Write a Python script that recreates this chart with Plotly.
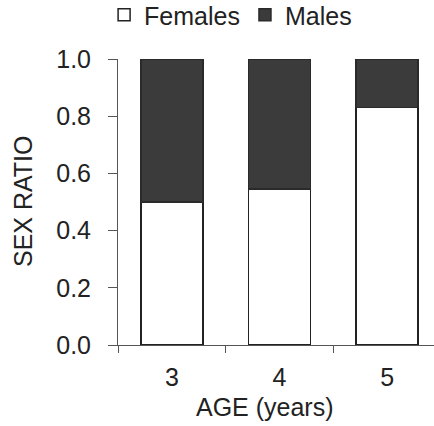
import plotly.graph_objects as go

ages = [3, 4, 5]
age_labels = ["3", "4", "5"]
females = [0.50, 0.545, 0.83]
males = [0.50, 0.455, 0.17]
y_ticks = [0.0, 0.2, 0.4, 0.6, 0.8, 1.0]
y_tick_labels = ["0.0", "0.2", "0.4", "0.6", "0.8", "1.0"]

FONT = "Liberation Sans, Arial, sans-serif"
TXT = "#222222"
FS = 25

fig = go.Figure()
fig.add_trace(go.Bar(x=ages, y=females, name="Females", width=0.576,
                     marker=dict(color="white", line=dict(color="#222222", width=1.5))))
fig.add_trace(go.Bar(x=ages, y=males, name="Males", width=0.576,
                     marker=dict(color="#3b3b3b", line=dict(color="#2a2a2a", width=1.5))))

fig.update_layout(
    width=434, height=426,
    margin=dict(l=118, r=0, t=59, b=81, autoexpand=False),
    barmode="stack",
    plot_bgcolor="white", paper_bgcolor="white",
    font=dict(family=FONT, size=FS, color=TXT),
    showlegend=True,
    legend=dict(orientation="h", x=-0.044, xanchor="left", y=1.234, yanchor="top",
                font=dict(size=FS, color=TXT), bgcolor="rgba(0,0,0,0)",
                itemclick=False, tracegroupgap=0, traceorder="normal"),
    xaxis=dict(range=[2.5, 5.435], tickvals=ages, ticktext=age_labels,
               ticks="", showgrid=False, zeroline=False,
               showline=True, linecolor="#555555", linewidth=1,
               ticklabelstandoff=10,
               minor=dict(tickvals=[2.5, 3.5, 4.5, 5.5], ticks="outside",
                          ticklen=7, tickcolor="#555555", tickwidth=1, showgrid=False),
               tickfont=dict(size=FS, color=TXT)),
    yaxis=dict(range=[0, 1.0], tickvals=y_ticks, ticktext=y_tick_labels,
               ticks="outside", ticklen=9, tickcolor="#555555", tickwidth=1,
               showgrid=False, zeroline=False,
               showline=True, linecolor="#555555", linewidth=1,
               ticklabelstandoff=12,
               tickfont=dict(size=FS, color=TXT)),
    annotations=[
        dict(text="AGE (years)", xref="paper", yref="paper",
             x=(265 - 118) / 316, y=-(407 - 345) / 286, xanchor="center", yanchor="middle",
             showarrow=False, font=dict(size=FS, color=TXT)),
        dict(text="SEX RATIO", xref="paper", yref="paper",
             x=(23 - 118) / 316, y=(345 - 201) / 286, xanchor="center", yanchor="middle",
             textangle=-90, showarrow=False, font=dict(size=FS, color=TXT)),
    ],
)

fig.write_html("out.html")
